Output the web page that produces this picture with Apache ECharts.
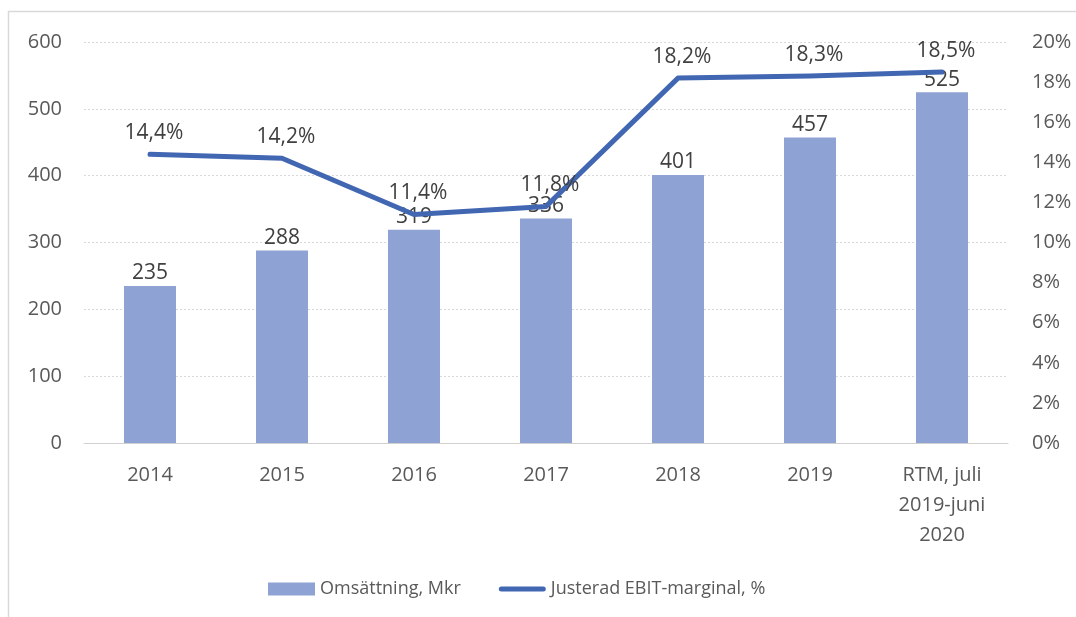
<!DOCTYPE html>
<html>
<head>
<meta charset="utf-8">
<script src="https://cdn.jsdelivr.net/npm/echarts@6/dist/echarts.min.js"></script>
<style>
  html, body { margin: 0; padding: 0; background: #fff; }
  #chart { width: 1076px; height: 617px; }
</style>
</head>
<body>
<div id="chart"></div>
<script>
'use strict';
{
    let categories = ['2014', '2015', '2016', '2017', '2018', '2019', 'RTM, juli\n2019-juni\n2020'];
    let revenue = [235, 288, 319, 336, 401, 457, 525];
    let ebitMargin = [14.4, 14.2, 11.4, 11.8, 18.2, 18.3, 18.5];

    let myChart = echarts.init(document.getElementById('chart'));
    let font = 'Open Sans';
    let lineColor = '#4267b2';
    let option = {
        animation: false,
        backgroundColor: '#fff',
        textStyle: { fontFamily: font, color: '#595959' },
        grid: { left: 84, right: 68, top: 42, bottom: 174 },
        legend: {
            top: 575,
            left: 263,
            itemGap: 38,
            itemWidth: 47,
            itemHeight: 13,
            textStyle: { fontFamily: font, fontSize: 18, color: '#595959' },
            data: [
                { name: 'Omsättning, Mkr', icon: 'rect' },
                { name: 'Justerad EBIT-marginal, %', icon: 'path://M2.5,0 L44.5,0 A2.5,2.5 0 0 1 44.5,5 L2.5,5 A2.5,2.5 0 0 1 2.5,0 Z' }
            ]
        },
        xAxis: {
            type: 'category',
            data: categories,
            axisLine: { lineStyle: { color: '#d0d0d0', width: 1 } },
            axisTick: { show: false },
            axisLabel: { fontSize: 20, color: '#595959', margin: 17, lineHeight: 30 }
        },
        yAxis: [{
            type: 'value',
            min: 0, max: 600, interval: 100,
            axisLine: { show: false },
            axisTick: { show: false },
            axisLabel: { fontSize: 20, color: '#595959', margin: 22 },
            splitLine: { lineStyle: { color: '#d9d9d9', type: [2, 2] } }
        }, {
            type: 'value',
            min: 0, max: 20, interval: 2,
            axisLine: { show: false },
            axisTick: { show: false },
            splitLine: { show: false },
            axisLabel: { fontSize: 20, color: '#595959', margin: 24, formatter: '{value}%' }
        }],
        series: [{
            name: 'Omsättning, Mkr',
            type: 'bar',
            data: revenue,
            barWidth: 52,
            itemStyle: { color: '#8fa2d4' },
            label: { show: true, position: 'top', fontSize: 21, color: '#404040', distance: 2 }
        }, {
            name: 'Justerad EBIT-marginal, %',
            type: 'line',
            yAxisIndex: 1,
            data: ebitMargin,
            symbol: 'circle',
            symbolSize: 1,
            showSymbol: true,
            lineStyle: { color: lineColor, width: 5, cap: 'round', join: 'round' },
            itemStyle: { color: lineColor },
            label: {
                show: true, position: 'top', fontSize: 21, color: '#404040', distance: 10,
                offset: [4, 0],
                formatter: function (p) { return p.value.toFixed(1).replace('.', ',') + '%'; }
            }
        }],
        graphic: [{
            type: 'rect',
            shape: { x: 8.5, y: 11.5, width: 1100, height: 700 },
            style: { fill: 'none', stroke: '#d9d9d9', lineWidth: 1.5 }
        }]
    };
    myChart.setOption(option);
}
</script>
</body>
</html>
